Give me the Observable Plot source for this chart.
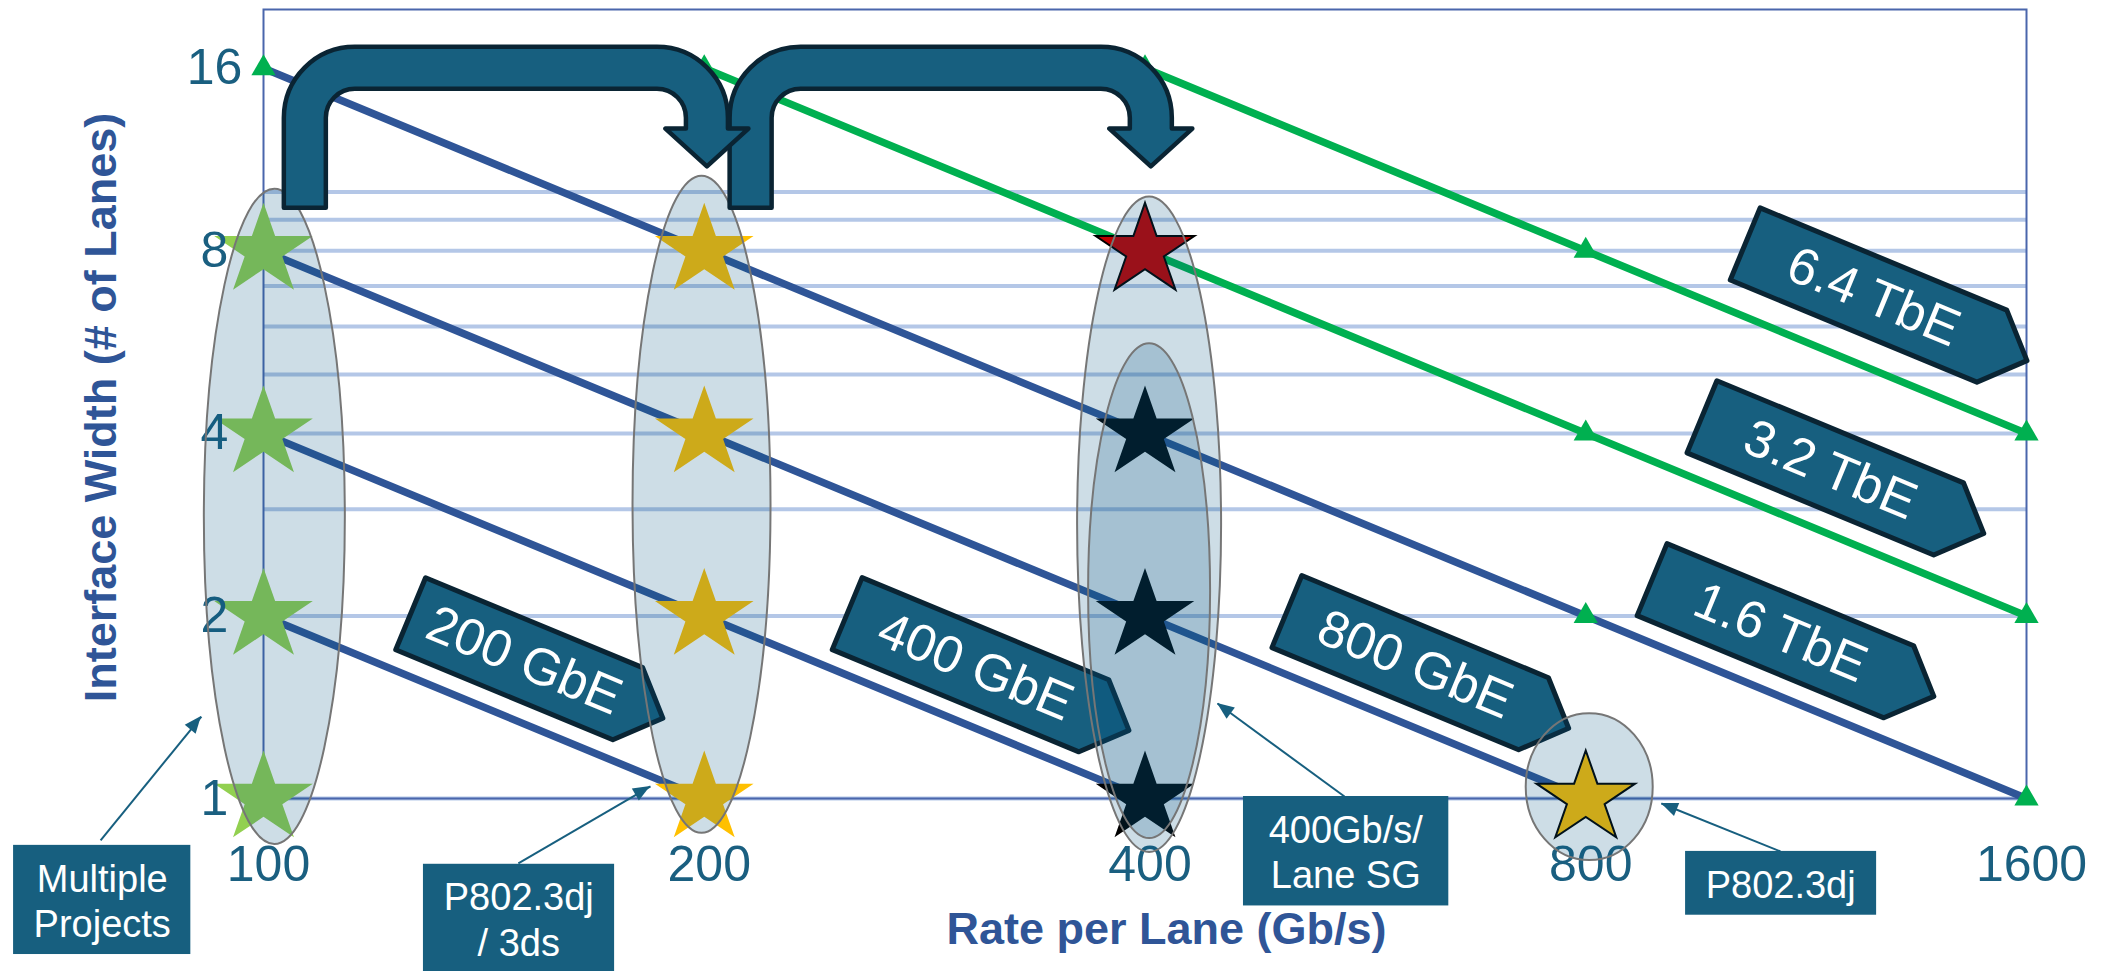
<!DOCTYPE html>
<html>
<head>
<meta charset="utf-8">
<script src="https://cdn.jsdelivr.net/npm/d3@7"></script>
<script src="https://cdn.jsdelivr.net/npm/@observablehq/plot@0.6"></script>
<style>
  html, body { margin: 0; padding: 0; background: #ffffff; overflow: hidden; }
</style>
</head>
<body>
<div id="chart"></div>
<script>
// ---------------- data ----------------
const xTicks = [100, 200, 400, 800, 1600];
const yTicks = [1, 2, 4, 8, 16];
const gridLanes = [1, 2, 3, 4, 5, 6, 7, 8, 9, 10];

// constant-speed lines (rate per lane x lanes = speed)
const seriesName = ["200 GbE", "400 GbE", "800 GbE", "1.6 TbE", "3.2 TbE", "6.4 TbE"];
const seriesKind = ["blue", "blue", "blue", "blue", "green", "green"];
const seriesStartRate = [100, 100, 100, 100, 200, 400];
const seriesStartLanes = [2, 4, 8, 16, 16, 16];
const seriesEndRate = [200, 400, 800, 1600, 1600, 1600];
const seriesEndLanes = [1, 1, 1, 1, 2, 4];

// green triangle markers
const markerRate = [100, 800, 1600, 200, 800, 1600, 400, 800, 1600];
const markerLanes = [16, 2, 1, 16, 4, 2, 16, 8, 4];

// stars (projects)
const starRate = [100, 100, 100, 100, 200, 200, 200, 200, 400, 400, 400, 400, 800];
const starLanes = [1, 2, 4, 8, 1, 2, 4, 8, 1, 2, 4, 8, 1];
const starGroup = ["multi", "multi", "multi", "multi", "dj", "dj", "dj", "dj", "sg", "sg", "sg", "next", "dj800"];

// speed call-out labels along the lines
const labelName = ["200 GbE", "400 GbE", "800 GbE", "1.6 TbE", "3.2 TbE", "6.4 TbE"];
const labelRate = [149.5, 304, 607, 1078, 1166, 1248];
const labelLanes = [1.70, 1.662, 1.675, 1.891, 3.509, 6.764];
const labelShort = [true, false, false, false, false, false];

// grouping ellipses (x center in Gb/s, vertical extent in lanes)
const ellipseRate = [101.8, 199.3, 402.9, 402.9, 805];
const ellipseLow = [0.840, 0.876, 0.815, 0.859, 0.79];
const ellipseHigh = [10.11, 10.62, 9.81, 5.62, 1.38];

// U-turn arrows (rate jumps)
const jumpFromRate = [106.8, 215.3];
const jumpToRate = [201, 404];
const jumpBarLanes = 16, jumpStartLanes = 9.4, jumpTipLanes = 11, jumpHeadLanes = 12.7;

// notes below the chart
const noteText = ["Multiple\nProjects", "P802.3dj\n/ 3ds", "400Gb/s/\nLane SG", "P802.3dj"];
const noteX1 = [67.5, 128.6, 467, 936];
const noteX2 = [89.2, 173.7, 645, 1264];
const noteY1 = [0.553, 0.50, 0.665, 0.642];
const noteY2 = [0.837, 0.779, 1.0076, 0.818];
const noteTextRate = [77.6, 149.4, 548.5, 1087];
const noteTextLanes = [0.680, 0.634, 0.820, 0.724];
const pointerFromRate = [77.4, 149.3, 547.4, 1086.6];
const pointerFromLanes = [0.853, 0.782, 1.0076, 0.818];
const pointerToRate = [90.7, 183.8, 448.3, 901];
const pointerToLanes = [1.365, 1.047, 1.434, 0.981];

const xTitle = "Rate per Lane (Gb/s)";
const yTitle = "Interface Width (# of Lanes)";

// ---------------- layout & style ----------------
const W = 2103, H = 971;
const mL = 263, mR = 77, mT = 9, mB = 173;
const xDomain = [100, 1600], yDomain = [1, 20];
const teal = "#175f7f", darkEdge = "#0a2433", tickColor = "#1a5f80", titleColor = "#2f5597";

const xPre = Plot.scale({x: {type: "log", base: 2, domain: xDomain, range: [mL, W - mR]}});
const yPre = Plot.scale({y: {type: "log", base: 2, domain: yDomain, range: [H - mB, mT]}});
const angle = Math.atan2(yPre.apply(1) - yPre.apply(2), xPre.apply(200) - xPre.apply(100));
const angleDeg = angle * 180 / Math.PI;

// custom symbols
const star5 = {
  draw(ctx) {
    const R = 48, ri = R * 0.382, sxs = 1.08;
    for (let i = 0; i < 10; i++) {
      const a = -Math.PI / 2 + i * Math.PI / 5;
      const r = i % 2 ? ri : R;
      const px = sxs * r * Math.cos(a), py = r * Math.sin(a);
      i ? ctx.lineTo(px, py) : ctx.moveTo(px, py);
    }
    ctx.closePath();
  }
};
function pentagon(L) {
  const c = Math.cos(angle), s = Math.sin(angle), h = 39, t = 38;
  const pts = [[-L / 2, -h], [L / 2, -h], [L / 2 + t, 0], [L / 2, h], [-L / 2, h]];
  return {
    draw(ctx) {
      pts.forEach(([u, v], i) => {
        const px = u * c - v * s, py = u * s + v * c;
        i ? ctx.lineTo(px, py) : ctx.moveTo(px, py);
      });
      ctx.closePath();
    }
  };
}

// ---------------- tables ----------------
const lineData = seriesName.flatMap((name, i) => [
  {name, kind: seriesKind[i], rate: seriesStartRate[i], lanes: seriesStartLanes[i]},
  {name, kind: seriesKind[i], rate: seriesEndRate[i], lanes: seriesEndLanes[i]}
]);
const markers = markerRate.map((r, i) => ({rate: r, lanes: markerLanes[i]}));
const stars = starRate.map((r, i) => ({rate: r, lanes: starLanes[i], group: starGroup[i]}));
const labels = labelName.map((t, i) => ({text: t, rate: labelRate[i], lanes: labelLanes[i], short: labelShort[i]}));
const notes = noteText.map((t, i) => ({
  text: t, x1: noteX1[i], x2: noteX2[i], y1: noteY1[i], y2: noteY2[i],
  tx: noteTextRate[i], ty: noteTextLanes[i],
  px1: pointerFromRate[i], py1: pointerFromLanes[i], px2: pointerToRate[i], py2: pointerToLanes[i]
}));

const starColors = {multi: "#92d050", dj: "#ffc000", sg: "#000000", next: "#c00000", dj800: "#ffc000"};

const chart = Plot.plot({
  width: W, height: H,
  marginLeft: mL, marginRight: mR, marginTop: mT, marginBottom: mB,
  style: {fontFamily: "'Liberation Sans', Arial, sans-serif", background: "#ffffff", overflow: "visible"},
  x: {type: "log", base: 2, domain: xDomain},
  y: {type: "log", base: 2, domain: yDomain},
  marks: [
    Plot.ruleY(gridLanes, {y: d => d, stroke: "#b4c7e7", strokeWidth: 4}),
    Plot.frame({stroke: "#4a66ac", strokeWidth: 2}),
    Plot.line(lineData.filter(d => d.kind === "blue"), {x: "rate", y: "lanes", z: "name", stroke: "#2f5597", strokeWidth: 7.5}),
    Plot.line(lineData.filter(d => d.kind === "green"), {x: "rate", y: "lanes", z: "name", stroke: "#00b050", strokeWidth: 7.5}),
    Plot.dot(markers, {x: "rate", y: "lanes", symbol: "triangle", r: 9, fill: "#00b050", stroke: "none"}),
    ...["multi", "dj", "sg"].map(g => Plot.dot(stars.filter(d => d.group === g), {x: "rate", y: "lanes", symbol: star5, fill: starColors[g], stroke: "none"})),
    ...["next", "dj800"].map(g => Plot.dot(stars.filter(d => d.group === g), {x: "rate", y: "lanes", symbol: star5, fill: starColors[g], stroke: "#000000", strokeWidth: 2})),
    Plot.dot(labels.filter(d => d.short), {x: "rate", y: "lanes", symbol: pentagon(235), fill: teal, stroke: darkEdge, strokeWidth: 5, strokeLinejoin: "round"}),
    Plot.dot(labels.filter(d => !d.short), {x: "rate", y: "lanes", symbol: pentagon(267), fill: teal, stroke: darkEdge, strokeWidth: 5, strokeLinejoin: "round"}),
    Plot.text(labels, {x: "rate", y: "lanes", text: "text", rotate: angleDeg, fill: "#ffffff", fontSize: 52, dx: 5, dy: 2}),
    Plot.axisX({ticks: xTicks, tickSize: 0, tickPadding: 47, fontSize: 50, fill: tickColor, dx: 5, label: null, tickFormat: d => String(d)}),
    Plot.axisY({ticks: yTicks, tickSize: 0, tickPadding: 49, textAnchor: "middle", fontSize: 50, fill: tickColor, label: null, tickFormat: d => String(d)}),
    Plot.text([xTitle], {frameAnchor: "bottom", textAnchor: "middle", lineAnchor: "middle", dx: 21.5, dy: 131, fontSize: 45, fontWeight: "bold", fill: titleColor}),
    Plot.text([yTitle], {frameAnchor: "left", textAnchor: "middle", lineAnchor: "middle", dx: -161.5, dy: 3.5, rotate: -90, fontSize: 45, fontWeight: "bold", fill: titleColor}),
    Plot.rect(notes, {x1: "x1", x2: "x2", y1: "y1", y2: "y2", fill: teal}),
    Plot.text(notes, {x: "tx", y: "ty", text: "text", fill: "#ffffff", fontSize: 38, lineHeight: 1.19}),
    Plot.link(notes, {x1: "px1", y1: "py1", x2: "px2", y2: "py2", stroke: teal, strokeWidth: 2})
  ]
});

document.getElementById("chart").appendChild(chart);

// ---------------- overlays drawn through the chart's scales ----------------
const sx = chart.scale("x"), sy = chart.scale("y");
const X = v => sx.apply(v), Y = v => sy.apply(v);
const svgSel = d3.select(chart);
const overlay = svgSel.append("g").attr("class", "overlay");

// ellipses
const ellipseHalfWidth = [70.5, 69, 72, 61, 63.5];
ellipseRate.forEach((r, i) => {
  const yl = Y(ellipseLow[i]), yh = Y(ellipseHigh[i]);
  overlay.append("ellipse")
    .attr("cx", X(r)).attr("cy", (yl + yh) / 2)
    .attr("rx", ellipseHalfWidth[i]).attr("ry", (yl - yh) / 2)
    .attr("fill", "rgb(5,85,130)").attr("fill-opacity", 0.2)
    .attr("stroke", "#767676").attr("stroke-width", 2);
});

// pointer heads for notes
notes.forEach(d => {
  const x1 = X(d.px1), y1 = Y(d.py1), x2 = X(d.px2), y2 = Y(d.py2);
  const a = Math.atan2(y2 - y1, x2 - x1), L = 17, hw = 7;
  const bx = x2 - L * Math.cos(a), by = y2 - L * Math.sin(a);
  const nx = -Math.sin(a), ny = Math.cos(a);
  overlay.append("path")
    .attr("d", `M${x2},${y2}L${bx + hw * nx},${by + hw * ny}L${bx - hw * nx},${by - hw * ny}Z`)
    .attr("fill", teal);
});

// U-turn arrows
function uArrowPath(xl, xr, yc, yBottom, yBase, yTip) {
  const w = 42, h = w / 2, Ro = 71, Ri = Ro - w, hw = 41.5;
  const yt = yc - h, yb = yc + h;
  return `M${xl - h},${yBottom} L${xl - h},${yt + Ro} A${Ro},${Ro} 0 0 1 ${xl - h + Ro},${yt} ` +
    `L${xr + h - Ro},${yt} A${Ro},${Ro} 0 0 1 ${xr + h},${yt + Ro} L${xr + h},${yBase} ` +
    `L${xr + hw},${yBase} L${xr},${yTip} L${xr - hw},${yBase} L${xr - h},${yBase} ` +
    `L${xr - h},${yb + Ri} A${Ri},${Ri} 0 0 0 ${xr - h - Ri},${yb} L${xl + h + Ri},${yb} ` +
    `A${Ri},${Ri} 0 0 0 ${xl + h},${yb + Ri} L${xl + h},${yBottom} Z`;
}
[1, 0].forEach(i => {
  overlay.append("path")
    .attr("d", uArrowPath(X(jumpFromRate[i]), X(jumpToRate[i]), Y(jumpBarLanes), Y(jumpStartLanes), Y(jumpHeadLanes), Y(jumpTipLanes)))
    .attr("fill", teal).attr("stroke", darkEdge).attr("stroke-width", 4.5).attr("stroke-linejoin", "round");
});
</script>
</body>
</html>
